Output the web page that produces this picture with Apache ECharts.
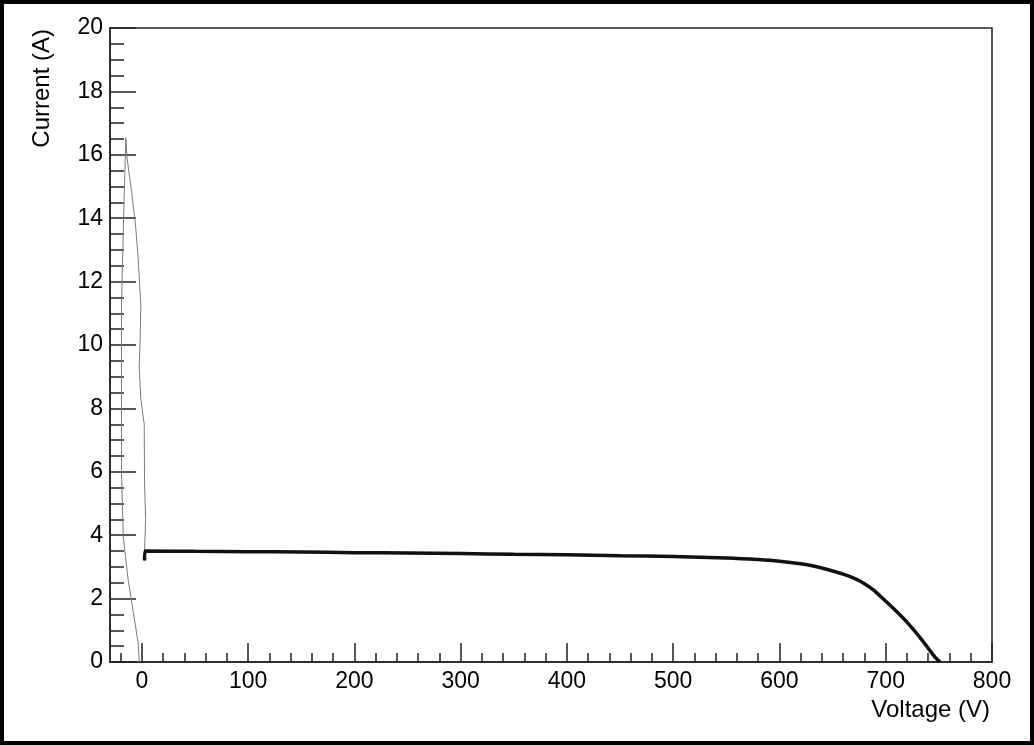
<!DOCTYPE html>
<html>
<head>
<meta charset="utf-8">
<style>
html,body{margin:0;padding:0;background:#fff;}
#chart{width:1034px;height:745px;}
</style>
<script src="https://cdn.jsdelivr.net/npm/echarts@6/dist/echarts.min.js"></script>
</head>
<body>
<div id="chart"></div>
<script>
// Transient (thin gray) part of the sweep
var transV = [-2.5, -3.5, -12.9, -17.5, -19.2, -19.2, -17.2, -15.1, -13.9, -9.7, -6.0, -3.5, -1.0, -1.6, -2.5, -1.0, 2.2, 2.5, 3.5, 2.5, 2.5];
var transI = [0.0, 0.6, 2.59, 3.94, 6.06, 11.26, 14.0, 16.54, 15.89, 14.84, 13.79, 12.74, 11.26, 10.2, 9.3, 8.3, 7.5, 5.7, 4.5, 3.5, 3.2];
// Main I-V curve (thick black)
var mainV = [2.5, 3, 50, 100, 150, 200, 250, 300, 350, 400, 450, 500, 550, 580, 600, 620, 633, 646, 660, 671, 680, 688, 696, 709, 721, 734, 746, 751];
var mainI = [3.2, 3.50, 3.49, 3.48, 3.47, 3.45, 3.44, 3.42, 3.40, 3.38, 3.35, 3.33, 3.28, 3.23, 3.18, 3.10, 3.02, 2.91, 2.77, 2.63, 2.47, 2.28, 2.04, 1.63, 1.22, 0.70, 0.17, 0.0];
// Axis ticks
var xMajor = [0, 100, 200, 300, 400, 500, 600, 700, 800];
var xMinor = [-20, 20, 40, 60, 80, 120, 140, 160, 180, 220, 240, 260, 280, 320, 340, 360, 380, 420, 440, 460, 480, 520, 540, 560, 580, 620, 640, 660, 680, 720, 740, 760, 780];
var xTitle = 'Voltage (V)';
var yTitle = 'Current (A)';

function zip(a, b) { return a.map(function (v, i) { return [v, b[i]]; }); }

var FONT = '"Liberation Sans", Arial, Helvetica, sans-serif';
var AX = '#222';
var G = { left: 110, top: 28, right: 42, bottom: 83 };

var chart = echarts.init(document.getElementById('chart'), null, { renderer: 'canvas' });
chart.setOption({
  animation: false,
  backgroundColor: '#fff',
  grid: [
    { left: G.left, top: G.top, right: G.right, bottom: G.bottom, show: true, borderColor: AX, borderWidth: 1.5, backgroundColor: 'transparent' },
    { left: G.left, top: G.top, right: G.right, bottom: G.bottom, show: false }
  ],
  xAxis: [
    {
      type: 'value', gridIndex: 0, min: -30, max: 800,
      axisLine: { show: true, onZero: false, lineStyle: { color: AX, width: 1.5 } },
      axisTick: { show: true, inside: true, length: 19, customValues: xMajor, lineStyle: { color: AX, width: 1.5 } },
      axisLabel: { show: true, customValues: xMajor, margin: 8, color: '#000', fontSize: 23, fontFamily: FONT },
      splitLine: { show: false }
    },
    {
      type: 'value', gridIndex: 1, min: -30, max: 800,
      axisLine: { show: false, onZero: false },
      axisTick: { show: true, inside: true, length: 9, customValues: xMinor, lineStyle: { color: AX, width: 1.5 } },
      axisLabel: { show: false },
      splitLine: { show: false }
    }
  ],
  yAxis: [
    {
      type: 'value', gridIndex: 0, min: 0, max: 20, interval: 2,
      axisLine: { show: true, onZero: false, lineStyle: { color: AX, width: 1.5 } },
      axisTick: { show: true, inside: true, length: 26, lineStyle: { color: AX, width: 1.5 } },
      minorTick: { show: true, splitNumber: 4, length: 14, lineStyle: { color: AX, width: 1.5 } },
      axisLabel: { show: true, margin: 7, color: '#000', fontSize: 23, fontFamily: FONT },
      splitLine: { show: false }
    },
    {
      type: 'value', gridIndex: 1, min: 0, max: 20, show: false
    }
  ],
  series: [
    {
      type: 'line', xAxisIndex: 0, yAxisIndex: 0, data: zip(transV, transI),
      showSymbol: false, symbol: 'none', lineStyle: { color: '#7a7a7a', width: 1 }, z: 3
    },
    {
      type: 'line', xAxisIndex: 0, yAxisIndex: 0, data: zip(mainV, mainI),
      showSymbol: false, symbol: 'none', smooth: 0.3, lineStyle: { color: '#111', width: 3.5 }, z: 4
    }
  ],
  graphic: [
    { type: 'rect', shape: { x: 2, y: 2, width: 1030, height: 741 }, style: { fill: 'none', stroke: '#000', lineWidth: 4 }, silent: true, z: 100 },
    { type: 'text', x: 990, y: 710, style: { text: xTitle, font: '24px ' + FONT, fill: '#000', textAlign: 'right', textVerticalAlign: 'middle' } },
    { type: 'text', x: 42, y: 29, rotation: Math.PI / 2, style: { text: yTitle, font: '24px ' + FONT, fill: '#000', textAlign: 'right', textVerticalAlign: 'middle' } }
  ]
});
</script>
</body>
</html>
